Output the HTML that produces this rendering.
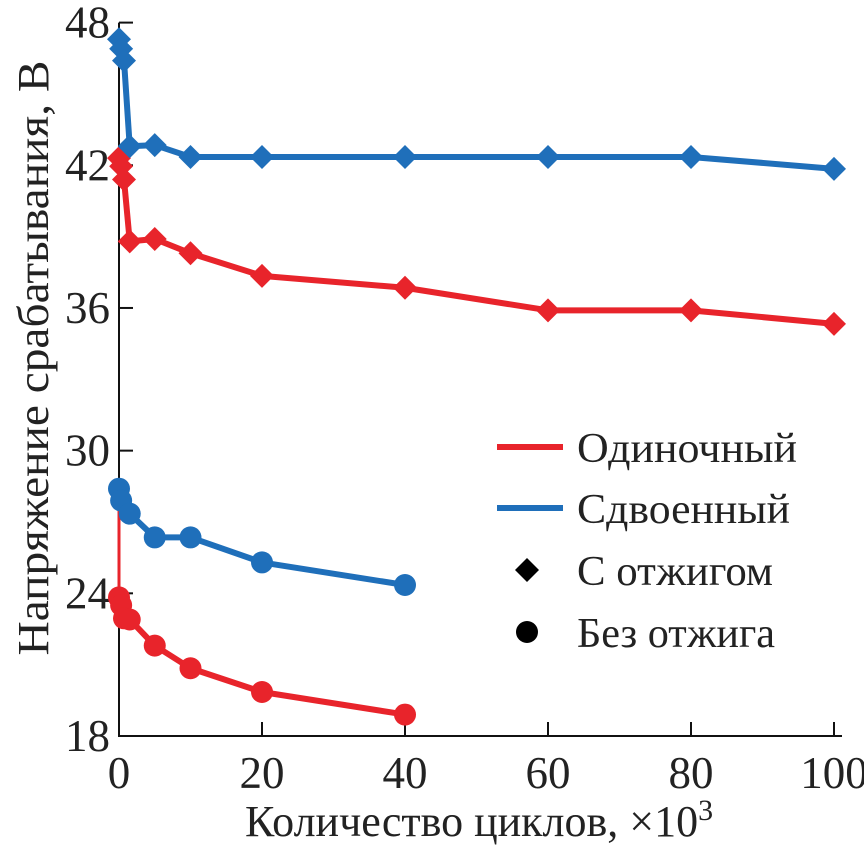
<!DOCTYPE html>
<html><head><meta charset="utf-8"><style>
body{margin:0;background:#fff}
svg{display:block;font-family:"Liberation Serif",serif}
</style></head><body>
<svg id="chart" width="864" height="846"></svg>
<script>
const xAnn=[0,0.3,0.7,1.5,5,10,20,40,60,80,100];
const redAnn=[42.3,41.96,41.4,38.8,38.9,38.3,37.35,36.85,35.9,35.9,35.33];
const blueAnn=[47.3,46.9,46.4,42.8,42.85,42.35,42.35,42.35,42.35,42.35,41.85];
const xRedNo=[0,0.3,0.7,1.5,5,10,20,40];
const redNo=[23.83,23.5,22.95,22.9,21.8,20.85,19.85,18.9];
const redNoStart=[0,27.8];
const xBlueNo=[0,0.3,1.5,5,10,20,40];
const blueNo=[28.4,27.9,27.35,26.35,26.35,25.3,24.35];
const xTicks=[0,20,40,60,80,100];
const yTicks=[18,24,30,36,42,48];
const NS="http://www.w3.org/2000/svg";
const svg=document.getElementById('chart');
const X=v=>119+v*7.15;
const Y=v=>736-(v-18)*23.78;
function mk(t,a,p){const e=document.createElementNS(NS,t);for(const k in a)e.setAttribute(k,a[k]);(p||svg).appendChild(e);return e;}
const RED='#e8242b',BLUE='#1f6fba';
let ax=mk('path',{d:`M${X(0)} ${Y(48)}V${Y(18)}H${X(100)+8}`,stroke:'#111','stroke-width':2,fill:'none'});


yTicks.forEach(v=>{
 const t=mk('line',{x1:X(0),x2:X(0)+14,y1:Y(v),y2:Y(v),stroke:'#111','stroke-width':2});
 
 
 const l=mk('text',{x:X(0)-9,y:Y(v)+15,'text-anchor':'end','font-size':45,fill:'#222'});l.textContent=v;
 
 
});
xTicks.forEach(v=>{
 const t=mk('line',{x1:X(v),x2:X(v),y1:Y(18),y2:Y(18)-14,stroke:'#111','stroke-width':2});
 
 
 const l=mk('text',{x:X(v),y:788,'text-anchor':'middle','font-size':45,fill:'#222'});l.textContent=v;
 
 
});
const thin=mk('line',{x1:X(redNoStart[0]),y1:Y(redNoStart[1]),x2:X(xRedNo[0]),y2:Y(redNo[0]),stroke:RED,'stroke-width':3});


function series(xs,ys,col,marker,name){
 const g=mk('g',{});
 
 
 mk('polyline',{points:xs.map((x,i)=>X(x)+','+Y(ys[i])).join(' '),fill:'none',stroke:col,'stroke-width':6,'stroke-linejoin':'round'},g);
 xs.forEach((x,i)=>{
  let m;
  if(marker==='d'){const cx=X(x),cy=Y(ys[i]),r=12;m=mk('path',{d:`M${cx} ${cy-r}L${cx+r} ${cy}L${cx} ${cy+r}L${cx-r} ${cy}Z`,fill:col},g);}
  else m=mk('circle',{cx:X(x),cy:Y(ys[i]),r:11,fill:col},g);
  
  
 });
}
series(xRedNo,redNo,RED,'c','single-no-anneal');
series(xBlueNo,blueNo,BLUE,'c','double-no-anneal');
series(xAnn,redAnn,RED,'d','single-anneal');
series(xAnn,blueAnn,BLUE,'d','double-anneal');
const leg=mk('g',{});


mk('line',{x1:497,x2:563,y1:447,y2:447,stroke:RED,'stroke-width':6},leg);
mk('line',{x1:497,x2:563,y1:508,y2:508,stroke:BLUE,'stroke-width':6},leg);
mk('path',{d:'M527 558L539 570L527 582L515 570Z',fill:'#000'},leg);
mk('circle',{cx:527,cy:632,r:11,fill:'#000'},leg);
[['Одиночный',462,220],['Сдвоенный',523,213],['С отжигом',585,196],['Без отжига',647,198]].forEach(([t,y,w])=>{
 const e=mk('text',{x:577,y:y,'font-size':42,fill:'#222',textLength:w,lengthAdjust:'spacingAndGlyphs'},leg);e.textContent=t;
 
 
});
const yl=mk('text',{x:0,y:0,transform:'translate(48 358) rotate(-90)','text-anchor':'middle','font-size':44,fill:'#222',textLength:595,lengthAdjust:'spacingAndGlyphs'});
yl.textContent='Напряжение срабатывания, В';


const xl=mk('text',{x:245,y:836,'font-size':44,fill:'#222'});
xl.innerHTML='Количество циклов, ×10<tspan dy="-16" font-size="30">3</tspan>';


</script>
</body></html>
